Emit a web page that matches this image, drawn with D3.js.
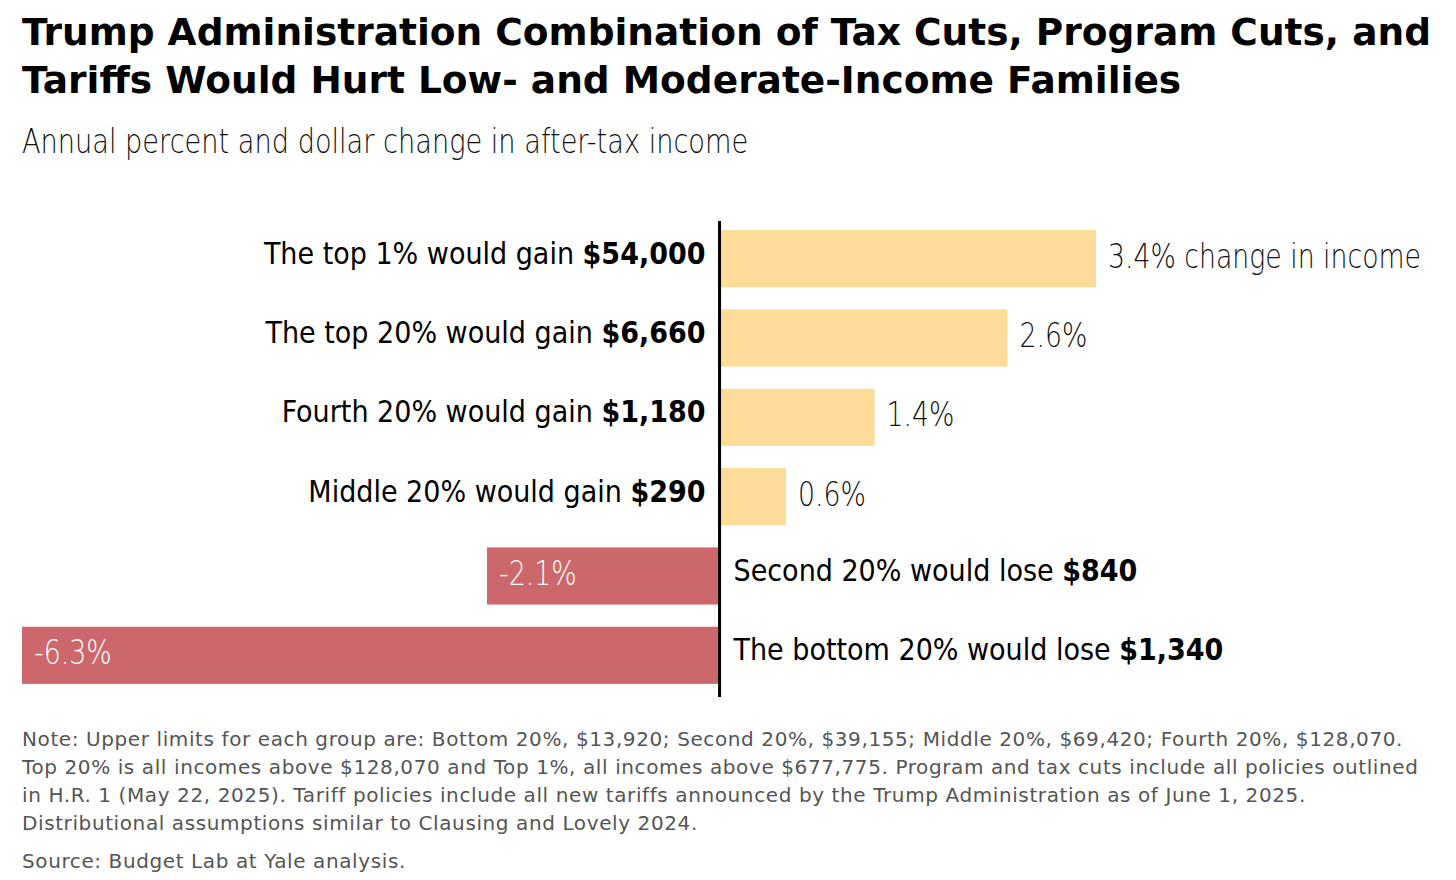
<!DOCTYPE html>
<html>
<head>
<meta charset="utf-8">
<script src="https://cdn.jsdelivr.net/npm/d3@7"></script>
<style>
  body { margin: 0; background: #fff; }
  .title { font-family: "DejaVu Sans", sans-serif; font-weight: 700; font-size: 37.5px; fill: #000; }
  .sub, .val { font-family: "DejaVu Sans", sans-serif; font-weight: 200; }
  .lab { font-family: "DejaVu Sans Condensed", "DejaVu Sans", sans-serif; }
  .sub { font-size: 34px; fill: #111; }
  .lab { font-size: 30px; fill: #000; }
  .lab tspan.b { font-weight: 700; }
  .val { font-size: 33px; }
  .note { font-family: "DejaVu Sans", sans-serif; font-size: 20px; letter-spacing: 0.6px; fill: #555; }
</style>
</head>
<body>
<div id="container"></div>
<script>
var groups = ['The top 1%', 'The top 20%', 'Fourth 20%', 'Middle 20%', 'Second 20%', 'The bottom 20%'];
var pctChange = [3.4, 2.6, 1.4, 0.6, -2.1, -6.3];
var dollarChange = ['$54,000', '$6,660', '$1,180', '$290', '$840', '$1,340'];
var titleLines = [
  'Trump Administration Combination of Tax Cuts, Program Cuts, and',
  'Tariffs Would Hurt Low- and Moderate-Income Families'
];
var subtitle = 'Annual percent and dollar change in after-tax income';
var noteLines = [
  'Note: Upper limits for each group are: Bottom 20%, $13,920; Second 20%, $39,155; Middle 20%, $69,420; Fourth 20%, $128,070.',
  'Top 20% is all incomes above $128,070 and Top 1%, all incomes above $677,775. Program and tax cuts include all policies outlined',
  'in H.R. 1 (May 22, 2025). Tariff policies include all new tariffs announced by the Trump Administration as of June 1, 2025.',
  'Distributional assumptions similar to Clausing and Lovely 2024.'
];
var source = 'Source: Budget Lab at Yale analysis.';

var W = 1456, H = 880;
var rows = groups.map(function (g, i) {
  return { name: g, pct: pctChange[i], dollars: dollarChange[i] };
});

var svg = d3.select('#container').append('svg')
  .attr('width', W).attr('height', H);

svg.selectAll('.title')
  .data(titleLines)
  .enter().append('text')
  .attr('class', 'title')
  .attr('x', 22)
  .attr('y', function (d, i) { return 45 + i * 48; })
  .text(function (d) { return d; });

// light face squeezed horizontally to look condensed
svg.append('text')
  .attr('class', 'sub')
  .attr('transform', 'translate(22,153) scale(0.8,1)')
  .text(subtitle);

var x = d3.scaleLinear().domain([-6.3, 3.4]).range([22, 1096]);
var y = d3.scaleBand().domain(groups).range([219, 695]).paddingInner(0.28).paddingOuter(0.14);

svg.selectAll('.bar')
  .data(rows)
  .enter().append('rect')
  .attr('class', 'bar')
  .attr('x', function (d) { return x(Math.min(0, d.pct)); })
  .attr('y', function (d) { return y(d.name); })
  .attr('width', function (d) { return Math.abs(x(d.pct) - x(0)); })
  .attr('height', y.bandwidth())
  .attr('fill', function (d) { return d.pct < 0 ? '#cc686b' : '#fddc9a'; });

// zero line
svg.append('line')
  .attr('x1', x(0)).attr('x2', x(0))
  .attr('y1', 221).attr('y2', 697)
  .attr('stroke', '#000').attr('stroke-width', 3);

// percent labels
svg.selectAll('.val')
  .data(rows)
  .enter().append('text')
  .attr('class', 'val')
  .attr('transform', function (d) {
    return 'translate(' + (x(d.pct) + 12) + ',' + (y(d.name) + y.bandwidth() / 2 + 9) + ') scale(0.81,1)';
  })
  .attr('fill', function (d) { return d.pct < 0 ? '#fff' : '#111'; })
  .text(function (d, i) {
    var s = d3.format('.1f')(d.pct).replace('\u2212', '-') + '%';
    return i === 0 ? s + ' change in income' : s;
  });

// group labels
var lab = svg.selectAll('.lab')
  .data(rows)
  .enter().append('text')
  .attr('class', 'lab')
  .attr('x', function (d) { return d.pct < 0 ? x(0) + 14 : x(0) - 14; })
  .attr('y', function (d) { return y(d.name) + y.bandwidth() / 2 + 5; })
  .style('text-anchor', function (d) { return d.pct < 0 ? 'start' : 'end'; });
lab.append('tspan')
  .text(function (d) { return d.name + (d.pct < 0 ? ' would lose ' : ' would gain '); });
lab.append('tspan')
  .attr('class', 'b')
  .text(function (d) { return d.dollars; });

svg.selectAll('.note')
  .data(noteLines.concat([source]))
  .enter().append('text')
  .attr('class', 'note')
  .attr('x', 22)
  .attr('y', function (d, i) { return i < 4 ? 746 + i * 28 : 868; })
  .text(function (d) { return d; });
</script>
</body>
</html>
